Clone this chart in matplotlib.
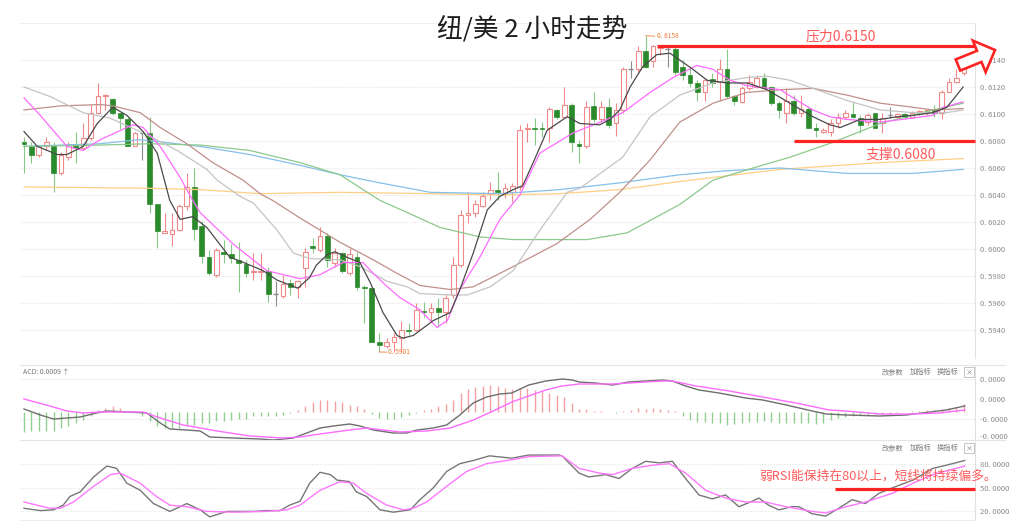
import matplotlib
matplotlib.use("Agg")
import matplotlib.pyplot as plt
from matplotlib.patches import Rectangle, FancyArrow
from matplotlib.lines import Line2D
from matplotlib.transforms import IdentityTransform

plt.rcParams["font.family"] = ["Noto Sans CJK SC", "DejaVu Sans"]
plt.rcParams["axes.unicode_minus"] = False

# NZD/USD 2h candles, oldest first
opens = [0.6079, 0.6076, 0.6070, 0.6076, 0.6076, 0.6056, 0.6068, 0.6078, 0.6075, 0.6082,
         0.6101, 0.6113, 0.6111, 0.6101, 0.6096, 0.6076, 0.6086, 0.6086, 0.6033, 0.6012,
         0.6011, 0.6014, 0.6032, 0.6046, 0.6017, 0.5994, 0.5981, 0.5998, 0.5996, 0.5992,
         0.5989, 0.5983, 0.5983, 0.5984, 0.5967, 0.5965, 0.5975, 0.5972, 0.5986, 0.6002,
         0.5999, 0.6010, 0.5990, 0.5997, 0.5982, 0.5994, 0.5972, 0.5971, 0.5931, 0.5928,
         0.5931, 0.5934, 0.5940, 0.5940, 0.5954, 0.5953, 0.5956, 0.5953, 0.5966, 0.5988,
         0.6025, 0.6027, 0.6032, 0.6041, 0.6044, 0.6041, 0.6042, 0.6046, 0.6089, 0.6090,
         0.6090, 0.6090, 0.6103, 0.6098, 0.6107, 0.6078, 0.6076, 0.6106, 0.6096, 0.6105,
         0.6093, 0.6103, 0.6133, 0.6133, 0.6147, 0.6139, 0.6149, 0.6148, 0.6148, 0.6135,
         0.6129, 0.6123, 0.6116, 0.6126, 0.6124, 0.6133, 0.6113, 0.6109, 0.6119, 0.6120,
         0.6127, 0.6120, 0.6108, 0.6101, 0.6110, 0.6101, 0.6104, 0.6090, 0.6087, 0.6087,
         0.6093, 0.6098, 0.6100, 0.6097, 0.6094, 0.6101, 0.6093, 0.6099, 0.6098, 0.6100,
         0.6098, 0.6100, 0.6101, 0.6103, 0.6101, 0.6116, 0.6124, 0.6130]
highs = [0.6083, 0.6079, 0.6077, 0.6083, 0.6079, 0.6072, 0.6079, 0.6087, 0.6093, 0.6107,
         0.6123, 0.6115, 0.6112, 0.6101, 0.6098, 0.6087, 0.6087, 0.6098, 0.6033, 0.6027,
         0.6027, 0.6033, 0.6056, 0.6060, 0.6021, 0.5999, 0.6001, 0.6007, 0.6004, 0.6005,
         0.5992, 0.5997, 0.5997, 0.5987, 0.5976, 0.5981, 0.5978, 0.5977, 0.6001, 0.6008,
         0.6016, 0.6012, 0.6001, 0.5998, 0.6001, 0.5998, 0.5973, 0.5972, 0.5938, 0.5934,
         0.5938, 0.5947, 0.5945, 0.5960, 0.5961, 0.5960, 0.5964, 0.5967, 0.5994, 0.6029,
         0.6042, 0.6036, 0.6042, 0.6050, 0.6057, 0.6049, 0.6049, 0.6092, 0.6093, 0.6097,
         0.6094, 0.6105, 0.6104, 0.6120, 0.6108, 0.6081, 0.6110, 0.6116, 0.6110, 0.6112,
         0.6108, 0.6135, 0.6139, 0.6150, 0.6158, 0.6151, 0.6151, 0.6150, 0.6150, 0.6140,
         0.6135, 0.6125, 0.6127, 0.6130, 0.6141, 0.6148, 0.6114, 0.6121, 0.6129, 0.6129,
         0.6130, 0.6121, 0.6110, 0.6119, 0.6114, 0.6114, 0.6105, 0.6093, 0.6090, 0.6096,
         0.6101, 0.6103, 0.6109, 0.6099, 0.6101, 0.6101, 0.6101, 0.6105, 0.6101, 0.6101,
         0.6102, 0.6103, 0.6104, 0.6107, 0.6118, 0.6127, 0.6133, 0.6142]
lows = [0.6056, 0.6064, 0.6068, 0.6073, 0.6042, 0.6055, 0.6066, 0.6064, 0.6073, 0.6081,
        0.6101, 0.6103, 0.6099, 0.6089, 0.6076, 0.6076, 0.6066, 0.6027, 0.6001, 0.6012,
        0.6002, 0.6013, 0.6029, 0.6007, 0.5990, 0.5981, 0.5979, 0.5990, 0.5990, 0.5968,
        0.5979, 0.5977, 0.5977, 0.5961, 0.5958, 0.5964, 0.5966, 0.5964, 0.5972, 0.5997,
        0.5998, 0.5987, 0.5987, 0.5982, 0.5981, 0.5970, 0.5945, 0.5931, 0.5924, 0.5927,
        0.5924, 0.5924, 0.5936, 0.5939, 0.5950, 0.5947, 0.5942, 0.5945, 0.5964, 0.5987,
        0.6019, 0.6024, 0.6031, 0.6036, 0.6036, 0.6038, 0.6035, 0.6044, 0.6079, 0.6077,
        0.6083, 0.6079, 0.6096, 0.6097, 0.6072, 0.6064, 0.6075, 0.6094, 0.6094, 0.6090,
        0.6084, 0.6101, 0.6127, 0.6131, 0.6134, 0.6135, 0.6144, 0.6135, 0.6129, 0.6125,
        0.6120, 0.6110, 0.6110, 0.6120, 0.6110, 0.6112, 0.6107, 0.6108, 0.6118, 0.6119,
        0.6119, 0.6107, 0.6097, 0.6093, 0.6099, 0.6098, 0.6090, 0.6083, 0.6086, 0.6084,
        0.6090, 0.6096, 0.6097, 0.6086, 0.6092, 0.6090, 0.6086, 0.6097, 0.6096, 0.6096,
        0.6097, 0.6099, 0.6099, 0.6098, 0.6096, 0.6116, 0.6123, 0.6129]
closes = [0.6078, 0.6070, 0.6076, 0.6079, 0.6056, 0.6070, 0.6078, 0.6075, 0.6082, 0.6101,
          0.6113, 0.6114, 0.6101, 0.6097, 0.6076, 0.6086, 0.6086, 0.6033, 0.6013, 0.6013,
          0.6014, 0.6032, 0.6046, 0.6015, 0.5995, 0.5982, 0.5999, 0.5996, 0.5993, 0.5990,
          0.5982, 0.5984, 0.5984, 0.5967, 0.5967, 0.5974, 0.5972, 0.5976, 0.5998, 0.6001,
          0.6010, 0.5992, 0.5997, 0.5984, 0.5996, 0.5972, 0.5971, 0.5931, 0.5929, 0.5931,
          0.5935, 0.5940, 0.5939, 0.5955, 0.5953, 0.5956, 0.5953, 0.5964, 0.5988, 0.6025,
          0.6027, 0.6033, 0.6039, 0.6044, 0.6042, 0.6045, 0.6047, 0.6088, 0.6090, 0.6089,
          0.6089, 0.6104, 0.6098, 0.6107, 0.6079, 0.6076, 0.6105, 0.6096, 0.6105, 0.6092,
          0.6103, 0.6133, 0.6133, 0.6147, 0.6135, 0.6150, 0.6150, 0.6148, 0.6131, 0.6129,
          0.6123, 0.6116, 0.6125, 0.6123, 0.6133, 0.6113, 0.6110, 0.6119, 0.6124, 0.6127,
          0.6119, 0.6108, 0.6103, 0.6110, 0.6101, 0.6104, 0.6090, 0.6088, 0.6088, 0.6093,
          0.6098, 0.6101, 0.6098, 0.6092, 0.6099, 0.6090, 0.6097, 0.6099, 0.6100, 0.6098,
          0.6101, 0.6102, 0.6103, 0.6101, 0.6116, 0.6124, 0.6127, 0.6140]

# moving averages (candle index, price)
ma5_x = [0, 1.8, 4.5, 5.8, 8, 9.9, 12, 13.9, 16.1, 18, 19.7, 21.1, 22.8, 24.7, 27.8, 29.7,
         32.3, 34.2, 37, 38.6, 39.5, 41, 42, 43.6, 45.4, 46.8, 48.5, 50.4, 51.2, 52.6, 55.3,
         57.6, 58.9, 60.7, 62.6, 64.3, 66.1, 67.4, 68.8, 70.7, 73.4, 75.1, 77.8, 79.2, 80.5,
         81.9, 83.6, 85.5, 87.3, 88.6, 90.4, 92.3, 95, 97.7, 100.4, 103.5, 106.6, 108.9,
         110.3, 113, 115.7, 118, 120.1, 122.8, 124.7, 126.9]
ma5 = [0.6087, 0.6076, 0.6070, 0.6070, 0.6076, 0.6093, 0.6105, 0.6099, 0.6087, 0.6071,
       0.6036, 0.6022, 0.6024, 0.6016, 0.5994, 0.5990, 0.5984, 0.5977, 0.5971, 0.5979,
       0.5988, 0.5996, 0.5998, 0.5994, 0.5990, 0.5975, 0.5953, 0.5936, 0.5934, 0.5936,
       0.5947, 0.5953, 0.5970, 0.5997, 0.6029, 0.6039, 0.6044, 0.6047, 0.6064, 0.6088,
       0.6098, 0.6093, 0.6092, 0.6096, 0.6103, 0.6120, 0.6135, 0.6144, 0.6145, 0.6140,
       0.6133, 0.6125, 0.6123, 0.6123, 0.6118, 0.6108, 0.6098, 0.6092, 0.6090, 0.6096,
       0.6096, 0.6098, 0.6099, 0.6101, 0.6105, 0.6120]
ma10_x = [0, 2.2, 5.8, 8, 10.3, 14.7, 16.1, 18.4, 21.1, 22.8, 23.8, 28.2, 32.8, 37.3, 40,
          43.1, 45.8, 47.2, 49.1, 50.8, 53.5, 55.8, 57.2, 58.9, 61.6, 64.3, 67, 69.7, 74.2,
          78.8, 80.9, 84.6, 87.7, 90.9, 93.1, 95.4, 97.7, 102.2, 104.5, 106.6, 108.9, 111.2,
          115.7, 120.1, 122.8, 124.2, 126.9]
ma10 = [0.6112, 0.6099, 0.6076, 0.6073, 0.6081, 0.6092, 0.6090, 0.6076, 0.6053, 0.6036,
        0.6027, 0.6004, 0.5984, 0.5978, 0.5981, 0.5990, 0.5990, 0.5982, 0.5972, 0.5964,
        0.5955, 0.5942, 0.5947, 0.5970, 0.5994, 0.6022, 0.6040, 0.6071, 0.6086, 0.6096,
        0.6101, 0.6116, 0.6127, 0.6136, 0.6133, 0.6125, 0.6121, 0.6118, 0.6110, 0.6103,
        0.6098, 0.6096, 0.6094, 0.6097, 0.6099, 0.6105, 0.6109]
ma20_x = [0, 3.5, 8, 11.6, 16.1, 20.7, 24.7, 26.1, 29.2, 31, 34.2, 36.4, 38.6, 42.7, 45.4,
          49.1, 51.8, 53.5, 57.6, 59.9, 63, 66.1, 69.7, 73.4, 75.1, 80.9, 84.6, 88.6, 93.1,
          97.7, 100.4, 103.5, 106.6, 111.2, 115.7, 120.1, 124.7, 126.9]
ma20 = [0.6120, 0.6113, 0.6101, 0.6097, 0.6086, 0.6073, 0.6059, 0.6051, 0.6039, 0.6034,
        0.6014, 0.5997, 0.5993, 0.5992, 0.5987, 0.5976, 0.5972, 0.5967, 0.5966, 0.5966,
        0.5972, 0.5984, 0.6014, 0.6042, 0.6045, 0.6068, 0.6098, 0.6114, 0.6123, 0.6127,
        0.6128, 0.6125, 0.6119, 0.6110, 0.6103, 0.6101, 0.6101, 0.6103]
ma30_x = [0, 4.9, 10.3, 12, 15.7, 18.4, 22, 25.5, 29.6, 31.9, 33.6, 37.3, 40, 42.7, 47.2,
          50.4, 53.5, 57.6, 60.7, 66.1, 72, 76.5, 80.5, 84.6, 88.6, 93.1, 97.7, 102.2,
          106.6, 111.2, 115.7, 120.1, 122.8, 126.9]
ma30 = [0.6103, 0.6106, 0.6107, 0.6106, 0.6101, 0.6090, 0.6078, 0.6064, 0.6051, 0.6041,
        0.6036, 0.6023, 0.6014, 0.6005, 0.5992, 0.5982, 0.5973, 0.5970, 0.5972, 0.5987,
        0.6004, 0.6022, 0.6042, 0.6066, 0.6094, 0.6108, 0.6116, 0.6118, 0.6119, 0.6114,
        0.6108, 0.6105, 0.6103, 0.6104]
ma60_x = [0, 10.3, 17, 23.8, 30.5, 37.3, 42.7, 48.1, 51.8, 56.2, 61.6, 66.1, 76.1, 81.5,
          88.6, 93.1, 99.1, 103.5, 109.3, 115.7, 122.8, 126.9]
ma60 = [0.6076, 0.6077, 0.6078, 0.6077, 0.6073, 0.6064, 0.6055, 0.6036, 0.6027, 0.6016,
        0.6009, 0.6007, 0.6007, 0.6012, 0.6033, 0.6051, 0.6061, 0.6068, 0.6079, 0.6093,
        0.6103, 0.6108]
ma120_x = [0, 10.3, 15.7, 23.8, 30.5, 37.3, 42.7, 48.1, 54.9, 64.3, 72.4, 80.5, 88.6, 95,
           102.2, 111.2, 120.1, 126.9]
ma120 = [0.6076, 0.6078, 0.6081, 0.6076, 0.6070, 0.6062, 0.6055, 0.6049, 0.6042, 0.6041,
         0.6044, 0.6049, 0.6055, 0.6058, 0.6060, 0.6056, 0.6056, 0.6059]
ma250_x = [0, 17, 23.8, 31.9, 42.7, 54.9, 64.3, 72.4, 80.5, 88.6, 102.2, 115.7, 126.9]
ma250 = [0.6046, 0.6045, 0.6044, 0.6041, 0.6042, 0.6041, 0.6040, 0.6041, 0.6044, 0.6050,
         0.6059, 0.6064, 0.6067]

price_ticks = [0.5940, 0.5960, 0.5980, 0.6000, 0.6020, 0.6040, 0.6060, 0.6080, 0.6100, 0.6120, 0.6140]
resistance, resist_from = 0.6150, 85.5
support, support_from = 0.6080, 104
high_label = "0. 6158"
low_label = "0. 5901"

# MACD panel (values in 1e-6)
macd_hist = [-20, -19, -19, -19, -19, -16, -14, -11, -8, -4, 2, 4, 6, 4, 0, 0, -4, -9, -14, -16,
             -16, -16, -14, -13, -11, -11, -9, -9, -8, -7, -7, -4, -4, -4, -4, -3, -1, 2, 6, 10,
             12, 12, 11, 10, 7, 6, 3, -2, -6, -7, -7, -5, -3, -1, 2, 3, 6, 8, 12, 19,
             23, 25, 26, 27, 26, 24, 23, 24, 24, 22, 21, 19, 17, 15, 9, 3, 3, 1, 1, 0,
             -1, 1, 2, 4, 3, 4, 3, 2, 1, -4, -8, -10, -10, -11, -11, -13, -12, -11, -10, -10,
             -9, -10, -11, -11, -11, -11, -11, -12, -11, -8, -6, -5, -4, -3, -3, -2, -2, -2, -1, 0,
             1, 1, 2, 2, 3, 4, 5, 8]
dif_x = [0, 2.2, 4, 7.6, 9.8, 11.2, 13.9, 16.6, 18.4, 19.7, 22, 23.8, 25.1, 28.3, 31.9, 33.7,
         36.4, 38.2, 40, 41.8, 44, 45.4, 47.2, 49.9, 51.7, 53.1, 55.3, 57.1, 58.9, 60.7, 62.5,
         64.3, 65.9, 68.2, 70.5, 72.7, 74.1, 75, 77.2, 79.5, 81.7, 84, 86.3, 87.6, 89.4, 91.2,
         93.9, 97.5, 99.8, 103, 106.5, 108.4, 111.1, 115.6, 119.2, 122.4, 124.6, 127.1]
dif = [3, -3, -7, -5, -1, 1, 0, -1, -11, -17, -18, -19, -25, -26, -27, -28, -26, -21, -16, -14,
       -12, -14, -18, -21, -21, -18, -16, -13, -3, 9, 15, 18, 19, 27, 31, 33, 32, 30, 29, 27,
       30, 31, 32, 31, 26, 22, 19, 14, 12, 7, 1, -2, -3, -4, -3, 0, 2, 6]
dea_x = [0, 3.5, 5.8, 8, 10.3, 13.9, 16.1, 18.4, 21.5, 26.1, 30.5, 35, 37.3, 40, 44, 46.3,
         50.8, 54.4, 57.6, 60.7, 63.4, 65.9, 68.2, 70.5, 72.7, 75, 79.5, 84, 86.3, 87.6, 90.8,
         95.3, 99.8, 104.3, 108.8, 111.1, 115.6, 120.1, 123.7, 127.1]
dea = [13, 6, 1, -1, 0, 0, 0, -6, -13, -19, -24, -26, -25, -22, -18, -16, -20, -19, -16, -8,
       1, 10, 16, 22, 26, 28, 28, 30, 31, 31, 26, 21, 15, 9, 2, 1, -2, -2, -1, 2]
macd_ticks = [33, 13, -7, -24]

# RSI panel
rsi1_x = [0, 2.2, 4, 5.3, 6.2, 7.6, 9.4, 11.2, 12.5, 13.9, 15.7, 17.5, 19.7, 22, 23.8, 25.1,
          27.4, 31, 32.8, 34.6, 35.9, 37.3, 38.6, 40, 41.4, 42.3, 44, 44.9, 46.3, 48.1, 49.9,
          52.2, 53.5, 55.3, 57.1, 58.9, 60.7, 62.9, 65.9, 68.2, 70.5, 72.3, 72.7, 75, 76.3,
          78.6, 80.4, 82.2, 84, 85.8, 87.6, 89.4, 91.2, 93, 94.8, 96.6, 98.4, 99.3, 100.6, 102,
          103.8, 104.7, 106.5, 108.3, 110.1, 111.9, 113.7, 115.5, 117.3, 120.1, 122.8, 124.6, 127.1]
rsi1 = [24, 21, 22, 28, 39, 45, 64, 78, 75, 56, 47, 30, 20, 30, 22, 13, 20, 20, 21, 21,
        28, 33, 56, 70, 67, 60, 58, 45, 39, 22, 19, 22, 35, 50, 71, 81, 85, 91, 88, 92,
        92, 92, 91, 69, 64, 67, 62, 75, 84, 82, 84, 62, 41, 36, 41, 26, 33, 37, 28, 22,
        26, 26, 17, 14, 24, 35, 30, 43, 50, 60, 75, 79, 85]
rsi2_x = [0, 3.5, 4.9, 6.7, 9.4, 11.7, 13, 15.7, 17.9, 19.7, 22, 24.7, 28.3, 32.8, 35.5, 37.3,
          40, 42.7, 44.5, 46.3, 49, 51.3, 52.6, 54.4, 57.1, 59.8, 62.5, 65.9, 68.2, 72.7, 75,
          77.7, 79.5, 82.2, 84.9, 87.2, 89.4, 92.1, 94.8, 97.5, 100.2, 102.9, 106.5, 108.3,
          111.1, 113.7, 117.3, 120.1, 122.8, 127.1]
rsi2 = [32, 24, 24, 32, 52, 67, 69, 56, 39, 28, 26, 20, 19, 20, 22, 28, 47, 58, 56, 43,
        28, 22, 24, 32, 52, 71, 81, 86, 90, 91, 75, 69, 67, 75, 79, 81, 69, 47, 37, 32,
        32, 26, 20, 18, 26, 32, 43, 56, 67, 78]
rsi_ticks = [80, 50, 20]
rsi_mark, rsi_mark_from = 48.7, 109.6


def fmt(v):
    return f"{v:.4f}".replace(".", ". ")


W, H = 1024, 531


def box(top, bottom):
    return [20 / W, 1 - bottom / H, 955 / W, (bottom - top) / H]


fig = plt.figure(figsize=(W / 100, H / 100), dpi=100)
ax = fig.add_axes(box(23, 358))
ax_macd = fig.add_axes(box(365, 440))
ax_rsi = fig.add_axes(box(442, 520))

grid_kw = dict(color="#e2e2e2", lw=0.8, ls=(0, (1, 1.5)), zorder=0)
for a in (ax, ax_macd, ax_rsi):
    a.set_xlim(-0.54, 128.5)
    for s in ("left", "bottom", "top"):
        a.spines[s].set_visible(False)
    a.spines["right"].set_color("#e0e0e0")
    a.yaxis.tick_right()
    a.tick_params(axis="y", length=0, pad=3.5, labelsize=5.5, labelcolor="#8a8a8a")
    a.tick_params(axis="x", length=0, labelbottom=False)
    a.set_xticks([])

# main price panel
ax.set_ylim(0.59193, 0.61674)
ax.set_yticks(price_ticks)
ax.set_yticklabels([fmt(v) for v in price_ticks])
for v in price_ticks:
    ax.axhline(v, **grid_kw)
ax.spines["top"].set_visible(True)
ax.spines["top"].set_color("#ececec")
ax.spines["top"].set_linestyle((0, (1, 1.5)))

up_c, dn_fill, dn_wick, doji_c = "#f08a8a", "#2b8a2b", "#86c886", "#8a8a8a"
bw = 0.64
for i, (o, h, l, c) in enumerate(zip(opens, highs, lows, closes)):
    if c > o:
        ax.vlines(i, l, h, color=up_c, lw=0.8, zorder=2)
        ax.add_patch(Rectangle((i - bw / 2, o), bw, c - o, facecolor="white",
                               edgecolor=up_c, lw=0.8, zorder=3))
    elif c < o:
        ax.vlines(i, l, h, color=dn_wick, lw=0.8, zorder=2)
        ax.add_patch(Rectangle((i - bw / 2, c), bw, o - c, facecolor=dn_fill,
                               edgecolor=dn_fill, lw=0.5, zorder=3))
    else:
        ax.vlines(i, l, h, color=doji_c, lw=0.8, zorder=2)
        ax.hlines(o, i - bw / 2, i + bw / 2, color=doji_c, lw=1.0, zorder=3)

ma_style = [
    (ma250_x, ma250, "#ffcf85"),
    (ma120_x, ma120, "#86bfe8"),
    (ma60_x, ma60, "#8cc98c"),
    (ma30_x, ma30, "#c08f8a"),
    (ma20_x, ma20, "#c4c4c4"),
    (ma10_x, ma10, "#ff6bff"),
    (ma5_x, ma5, "#4a4a4a"),
]
for xs, ys, col in ma_style:
    ax.plot(xs, ys, color=col, lw=0.9, zorder=4)

red = "#ff2424"
ax.plot([resist_from, 128.5], [resistance, resistance], color=red, lw=2.3,
        solid_capstyle="butt", zorder=6, clip_on=False)
ax.plot([support_from, 128.5], [support, support], color=red, lw=2.3,
        solid_capstyle="butt", zorder=6, clip_on=False)
ax.text(110.3, 0.61578, "压力0.6150", color="#ff5a5a", fontsize=10, ha="center", va="center", zorder=7)
ax.text(118.5, 0.6070, "支撑0.6080", color="#ff5a5a", fontsize=10, ha="center", va="center", zorder=7)

orange = "#f07a3a"
hi_i = highs.index(max(highs))
ax.plot([hi_i, hi_i + 1.2], [highs[hi_i], highs[hi_i] - 0.00004], color=orange, lw=0.6, zorder=7)
ax.text(hi_i + 1.5, highs[hi_i] - 0.00003, high_label, color=orange, fontsize=4.8, va="center", zorder=7)
lo_i = lows.index(min(lows))
ax.plot([lo_i, lo_i + 1.0], [lows[lo_i] - 0.00002, lows[lo_i] - 0.00004], color=orange, lw=0.6, zorder=7)
ax.text(lo_i + 1.2, lows[lo_i] - 0.00003, low_label, color=orange, fontsize=4.8, va="center", zorder=7)

# hollow arrow pointing up-right (display pixels)
arrow = FancyArrow(958, H - 65, 37, 15, width=12, head_width=34, head_length=17,
                   length_includes_head=True, facecolor="white", edgecolor=red, lw=1.9,
                   transform=IdentityTransform(), zorder=8)
fig.add_artist(arrow)

fig.text(532 / W, 1 - 29 / H, "纽/美 2 小时走势", fontsize=18.5, ha="center", va="center", color="#1e1e1e")

# MACD panel
ax_macd.set_ylim(-28, 47)
ax_macd.set_yticks(macd_ticks)
ax_macd.set_yticklabels([fmt(t * 1e-6) for t in macd_ticks])
for t in (33, -7):
    ax_macd.axhline(t, **grid_kw)
bar_cols = ["#f4a0a0" if v > 0 else "#8fcf8f" for v in macd_hist]
ax_macd.vlines(range(len(macd_hist)), 0, macd_hist, colors=bar_cols, lw=1.0, zorder=2)
ax_macd.plot(dif_x, dif, color="#6e6e6e", lw=1.0, zorder=3)
ax_macd.plot(dea_x, dea, color="#ff6bff", lw=1.0, zorder=3)

# RSI panel
ax_rsi.set_ylim(9, 108.7)
ax_rsi.set_yticks(rsi_ticks)
ax_rsi.set_yticklabels([fmt(t) for t in rsi_ticks])
for t in rsi_ticks:
    ax_rsi.axhline(t, **grid_kw)
ax_rsi.spines["bottom"].set_visible(True)
ax_rsi.spines["bottom"].set_color("#ececec")
ax_rsi.plot(rsi1_x, rsi1, color="#777777", lw=1.0, zorder=3)
ax_rsi.plot(rsi2_x, rsi2, color="#ff77ff", lw=1.0, zorder=3)
ax_rsi.plot([rsi_mark_from, 128.5], [rsi_mark, rsi_mark], color=red, lw=2.3,
            solid_capstyle="butt", zorder=5, clip_on=False)
fig.text(759 / W, 1 - 476 / H, "弱RSI能保持在80以上，短线将持续偏多。", fontsize=9.2,
         color="#ff5a5a", va="center", ha="left", zorder=6)

# panel separators and headers
for yy in (365, 440):
    fig.add_artist(Line2D([20 / W, 1005 / W], [1 - yy / H] * 2, color="#e4e4e4", lw=0.8,
                          transform=fig.transFigure))
fig.text(23 / W, 1 - 372 / H, "ACD: 0.0009 ↑", fontsize=5, color="#777777", va="center")
for yy in (372, 448):
    for xx, label in ((882, "改参数"), (910, "加指标"), (937, "换指标")):
        fig.text(xx / W, 1 - yy / H, label, fontsize=5.2, color="#808080", va="center")
    fig.text(969 / W, 1 - yy / H, "×", fontsize=5, color="#808080", va="center", ha="center",
             bbox=dict(boxstyle="square,pad=0.15", fc="white", ec="#bbbbbb", lw=0.6))

plt.savefig("out.png", dpi=100)
